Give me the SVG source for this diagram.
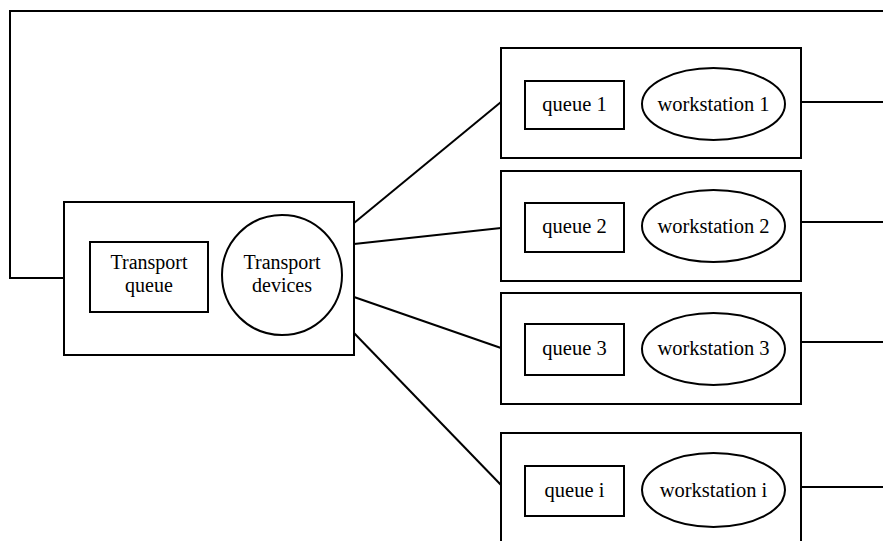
<svg xmlns="http://www.w3.org/2000/svg" width="883" height="541" viewBox="0 0 883 541">
  <style>
    .box { fill: none; stroke: #000; stroke-width: 2; }
    .wire { fill: none; stroke: #000; stroke-width: 2; }
    .lbl { font-family: "Liberation Serif", "Times New Roman", serif; font-size: 20.5px; fill: #000; text-anchor: middle; }
    .lbl2 { font-family: "Liberation Serif", "Times New Roman", serif; font-size: 20px; fill: #000; text-anchor: middle; }
  </style>
  <rect width="883" height="541" fill="#fff"/>

  <!-- connectors -->
  <g id="connectors">
    <polyline class="wire" points="883,11 10,11 10,278 64,278"/>
    <line class="wire" x1="354" y1="223" x2="501" y2="102"/>
    <line class="wire" x1="354" y1="244" x2="501" y2="228"/>
    <line class="wire" x1="354" y1="297" x2="501" y2="348"/>
    <line class="wire" x1="354" y1="333" x2="501" y2="485"/>
    <line class="wire" x1="801" y1="102" x2="883" y2="102"/>
    <line class="wire" x1="801" y1="222" x2="883" y2="222"/>
    <line class="wire" x1="801" y1="342" x2="883" y2="342"/>
    <line class="wire" x1="801" y1="487" x2="883" y2="487"/>
  </g>

  <!-- transport station -->
  <g id="transport">
    <rect class="box" x="64" y="202" width="290" height="153"/>
    <rect class="box" x="90" y="242" width="118" height="70"/>
    <text class="lbl2" x="149" y="269">Transport</text>
    <text class="lbl2" x="149" y="292">queue</text>
    <circle class="box" cx="282" cy="275" r="60"/>
    <text class="lbl2" x="282" y="269">Transport</text>
    <text class="lbl2" x="282" y="292">devices</text>
  </g>

  <g id="station1">
    <rect class="box" x="501" y="48" width="300" height="110"/>
    <rect class="box" x="525" y="81" width="99" height="48"/>
    <text class="lbl" x="574.5" y="111">queue 1</text>
    <ellipse class="box" cx="713.5" cy="104" rx="71.5" ry="36"/>
    <text class="lbl" x="713.5" y="111">workstation 1</text>
  </g>

  <g id="station2">
    <rect class="box" x="501" y="171" width="300" height="110"/>
    <rect class="box" x="525" y="203" width="99" height="49"/>
    <text class="lbl" x="574.5" y="233">queue 2</text>
    <ellipse class="box" cx="713.5" cy="226" rx="71.5" ry="36"/>
    <text class="lbl" x="713.5" y="233">workstation 2</text>
  </g>

  <g id="station3">
    <rect class="box" x="501" y="293" width="300" height="111"/>
    <rect class="box" x="525" y="324" width="99" height="51"/>
    <text class="lbl" x="574.5" y="355">queue 3</text>
    <ellipse class="box" cx="713.5" cy="349" rx="71.5" ry="36"/>
    <text class="lbl" x="713.5" y="355">workstation 3</text>
  </g>

  <g id="station-i">
    <rect class="box" x="501" y="433" width="300" height="120"/>
    <rect class="box" x="525" y="466" width="99" height="50"/>
    <text class="lbl" x="574.5" y="497">queue i</text>
    <ellipse class="box" cx="713.5" cy="490" rx="71.5" ry="37"/>
    <text class="lbl" x="713.5" y="497">workstation i</text>
  </g>
</svg>
